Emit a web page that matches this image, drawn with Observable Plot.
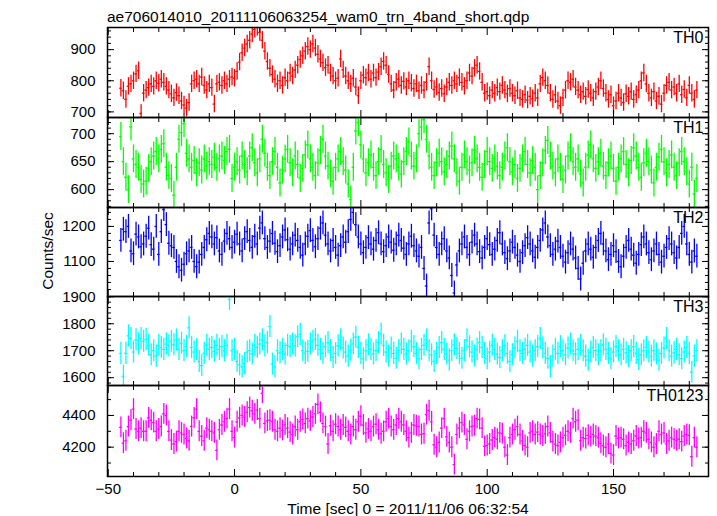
<!DOCTYPE html>
<html><head><meta charset="utf-8">
<script src="https://cdn.jsdelivr.net/npm/d3@7"></script>
<script src="https://cdn.jsdelivr.net/npm/@observablehq/plot@0.6"></script>
<style>
html,body{margin:0;padding:0;background:#fff;}
#chart{position:relative;width:717px;height:516px;overflow:hidden;background:#fff;}
#chart > svg{position:absolute;left:0;}
</style></head><body><div id="chart"></div>
<script>
const titleText = "ae706014010_20111106063254_wam0_trn_4band_short.qdp";
const xLabel = "Time [sec] 0 = 2011/11/06 06:32:54";
const yLabel = "Counts/sec";
const bandNames = ["TH0", "TH1", "TH2", "TH3", "TH0123"];
const bandColors = ["#ff0000", "#00ff00", "#0000ff", "#00ffff", "#ff00ff"];
const tStart = -45;   // centre of first 1-s bin
const binSec = 1;

const th0 = [
776,768,740,782,790,800,822,832,695,760,
770,778,790,782,800,792,805,795,782,770,
758,745,762,752,735,722,712,730,790,800,
805,790,812,785,770,790,778,725,790,795,
785,800,790,805,812,808,830,860,890,905,
918,930,950,965,972,955,930,895,862,840,
820,805,790,800,785,810,800,825,815,835,
850,868,880,895,910,900,918,905,885,870,
858,842,850,825,815,800,808,870,835,815,
800,790,808,780,752,800,818,810,825,805,
825,810,828,845,862,850,820,790,770,795,
805,785,798,780,800,792,775,790,768,785,
770,795,845,800,772,780,762,775,758,780,
795,785,800,790,810,795,782,800,825,815,
840,850,830,795,760,765,752,770,760,778,
765,785,770,758,775,760,752,768,745,740,
755,738,750,742,760,745,790,810,800,785,
760,740,755,735,720,745,770,800,795,805,
780,770,755,765,750,772,760,745,765,780,
800,775,760,740,755,720,735,760,745,730,
758,750,765,740,755,770,800,825,790,760,
745,765,735,750,725,760,785,795,770,780,
760,790,755,772,745,785,760,740,770];

const th1 = [
695,650,622,600,712,655,645,640,618,610,
615,638,650,660,668,655,672,682,640,625,
620,590,640,690,702,718,665,655,640,652,
630,648,635,655,642,650,645,658,640,655,
660,652,668,672,620,640,650,635,660,645,
632,660,675,648,630,655,690,665,640,625,
650,668,640,612,635,655,672,648,630,660,
645,620,638,662,680,655,640,625,648,670,
690,660,642,628,615,640,655,668,650,635,
610,582,640,705,720,680,655,630,648,662,
640,625,650,672,645,630,618,642,660,655,
640,628,650,668,685,660,642,655,700,712,
725,690,660,640,625,648,665,650,632,645,
660,678,655,630,615,640,662,650,635,648,
670,655,640,622,645,668,650,638,655,642,
625,640,660,675,650,632,645,620,638,655,
668,645,630,652,640,600,625,648,670,688,
660,642,630,655,640,618,635,660,675,650,
640,655,628,612,640,662,680,655,638,650,
665,642,625,648,660,638,615,640,655,668,
645,630,652,675,660,640,622,648,665,650,
635,612,640,658,672,650,630,645,662,640,
625,648,668,650,632,610,640,592,620];

const th2 = [
1160,1192,1185,1200,1130,1122,1178,1170,1142,1150,
1172,1195,1148,1135,1200,1120,1185,1248,1205,1152,
1145,1140,1100,1085,1075,1092,1122,1130,1140,1100,
1085,1098,1120,1140,1162,1180,1170,1150,1168,1130,
1120,1158,1180,1165,1140,1155,1178,1150,1130,1165,
1185,1160,1140,1172,1150,1195,1210,1165,1140,1158,
1180,1152,1128,1145,1170,1190,1162,1135,1150,1175,
1160,1140,1118,1150,1172,1188,1160,1142,1165,1195,
1210,1175,1150,1130,1160,1140,1118,1145,1170,1155,
1185,1220,1240,1205,1170,1150,1125,1140,1168,1150,
1135,1160,1182,1150,1128,1145,1170,1155,1132,1150,
1175,1160,1138,1120,1150,1172,1145,1130,1115,1140,
1080,1030,1210,1250,1175,1140,1120,1150,1165,1130,
1110,1060,1010,1090,1130,1150,1170,1140,1120,1155,
1175,1150,1128,1110,1140,1165,1148,1120,1135,1160,
1182,1150,1125,1108,1130,1155,1140,1118,1100,1125,
1145,1168,1150,1130,1112,1140,1160,1190,1210,1170,
1145,1120,1135,1158,1140,1115,1098,1125,1150,1135,
1110,1080,1050,1095,1130,1150,1135,1112,1140,1160,
1180,1150,1130,1105,1120,1145,1128,1100,1085,1115,
1140,1160,1135,1118,1095,1120,1148,1170,1150,1125,
1105,1130,1150,1120,1098,1115,1140,1165,1150,1125,
1110,1140,1180,1200,1150,1120,1098,1130,1115];

const th3 = [
1690,1605,1690,1755,1745,1695,1740,1725,1745,1735,
1742,1720,1685,1700,1680,1720,1712,1705,1725,1718,
1735,1722,1740,1705,1728,1700,1715,1785,1712,1695,
1705,1660,1645,1690,1720,1705,1712,1698,1720,1705,
1715,1700,1720,1890,1700,1705,1660,1648,1640,1652,
1695,1700,1688,1720,1712,1725,1740,1718,1730,1790,
1650,1640,1700,1692,1705,1688,1720,1715,1725,1718,
1752,1760,1700,1690,1698,1725,1735,1742,1720,1705,
1690,1715,1730,1700,1675,1690,1718,1740,1710,1695,
1680,1702,1725,1750,1712,1690,1670,1700,1722,1705,
1688,1700,1730,1762,1720,1695,1680,1710,1690,1672,
1700,1725,1705,1688,1700,1735,1715,1690,1670,1705,
1720,1740,1700,1685,1660,1690,1712,1730,1705,1688,
1665,1700,1722,1708,1690,1672,1700,1740,1715,1695,
1680,1705,1730,1712,1690,1670,1695,1720,1705,1688,
1675,1700,1718,1690,1660,1685,1710,1735,1700,1690,
1705,1720,1695,1680,1700,1715,1745,1710,1690,1672,
1640,1680,1705,1690,1715,1700,1685,1710,1725,1700,
1688,1705,1720,1700,1680,1665,1695,1712,1700,1685,
1700,1722,1705,1690,1670,1695,1715,1700,1685,1705,
1692,1678,1700,1715,1690,1668,1685,1700,1712,1695,
1680,1700,1688,1665,1690,1710,1745,1700,1680,1692,
1705,1685,1670,1695,1712,1690,1620,1680,1700];

const th0123 = [
4325,4225,4240,4330,4370,4440,4315,4300,4320,4300,
4300,4385,4370,4355,4300,4315,4330,4410,4400,4300,
4245,4220,4235,4300,4290,4280,4255,4240,4330,4385,
4440,4300,4270,4240,4320,4310,4300,4290,4180,4310,
4340,4360,4380,4440,4300,4260,4360,4385,4400,4390,
4420,4450,4430,4410,4435,4380,4540,4350,4365,4370,
4360,4310,4300,4320,4305,4340,4320,4295,4280,4330,
4310,4360,4375,4350,4380,4365,4390,4410,4470,4420,
4350,4330,4220,4335,4300,4345,4330,4310,4340,4325,
4300,4280,4330,4310,4360,4395,4340,4290,4315,4300,
4330,4345,4310,4285,4300,4360,4380,4330,4310,4340,
4380,4360,4340,4300,4260,4290,4340,4335,4330,4280,
4285,4405,4430,4360,4215,4200,4230,4320,4380,4265,
4230,4200,4090,4280,4320,4355,4340,4250,4300,4330,
4335,4380,4375,4320,4205,4210,4220,4245,4260,4250,
4290,4285,4200,4150,4260,4280,4310,4330,4280,4240,
4210,4200,4290,4300,4280,4295,4280,4270,4285,4330,
4290,4235,4220,4210,4230,4260,4275,4300,4290,4380,
4360,4370,4240,4260,4255,4275,4265,4280,4270,4260,
4225,4210,4200,4220,4160,4150,4270,4255,4260,4250,
4210,4230,4220,4240,4270,4255,4260,4300,4290,4250,
4230,4200,4220,4300,4280,4290,4220,4240,4260,4250,
4240,4250,4235,4270,4280,4275,4140,4260,4200];

const errHalf = [28, 25, 34, 41, 66];
const yDomains = [[682, 971], [568, 729], [1000, 1254], [1571, 1901], [4015, 4589]];
const yMajor = [[700, 800, 900], [600, 650, 700], [1100, 1200], [1600, 1700, 1800, 1900], [4200, 4400]];
const yMinorStep = [20, 10, 20, 20, 100];
const xDomain = [-50.3, 187.6];
const xMajor = [-50, 0, 50, 100, 150];
const xMinor = [-40, -30, -20, -10, 10, 20, 30, 40, 60, 70, 80, 90, 110, 120, 130, 140, 160, 170, 180];

const panelTop = [27, 117, 207, 296, 385];
const panelH = [90, 90, 89, 89, 91];
const series = [th0, th1, th2, th3, th0123];
const times = th0.map((_, j) => tStart + j * binSec);
const font = "'Liberation Sans', Arial, Helvetica, sans-serif";
const intFmt = d3.format("d");

const chart = document.getElementById("chart");
const mt = 12, mb = 12, mbLast = 40;

series.forEach((vals, i) => {
  const last = i === series.length - 1;
  const data = vals.map((v, j) => ({t: times[j], v, e: errHalf[i]}));
  const step = yMinorStep[i];
  const minor = d3.range(Math.ceil(yDomains[i][0] / step) * step, yDomains[i][1], step);
  const marks = [
    Plot.ruleX(data, {x: "t", y1: d => d.v - d.e, y2: d => d.v + d.e, stroke: bandColors[i], strokeWidth: 1.3, clip: true}),
    Plot.ruleY(data, {y: "v", x1: d => d.t - binSec / 2, x2: d => d.t + binSec / 2, stroke: bandColors[i], strokeWidth: 1.3, clip: true}),
    Plot.frame({stroke: "#000", strokeWidth: 1.5}),
    ...["bottom", "top"].flatMap(a => [
      Plot.axisX(xMajor, {anchor: a, tickSize: -7, fill: "none", label: null, stroke: "#000"}),
      Plot.axisX(xMinor, {anchor: a, tickSize: -4, fill: "none", label: null, stroke: "#000"})
    ]),
    ...["left", "right"].flatMap(a => [
      Plot.axisY(yMajor[i], {anchor: a, tickSize: -7, fill: "none", label: null, stroke: "#000"}),
      Plot.axisY(minor, {anchor: a, tickSize: -4, fill: "none", label: null, stroke: "#000"})
    ]),
    Plot.axisY(yMajor[i], {anchor: "left", tickSize: 0, tickPadding: 12, label: null, fill: "#000", tickFormat: intFmt}),
    Plot.text([bandNames[i]], {frameAnchor: "top-right", dx: -5, dy: 4, lineAnchor: "top", fontSize: 16, fill: "#000"})
  ];
  if (last) marks.push(Plot.axisX(xMajor, {anchor: "bottom", tickSize: 0, tickPadding: 7, label: null, fill: "#000", tickFormat: intFmt}));
  const svg = Plot.plot({
    width: 717,
    height: mt + panelH[i] + (last ? mbLast : mb),
    marginLeft: 107, marginRight: 9, marginTop: mt, marginBottom: last ? mbLast : mb,
    x: {domain: xDomain, label: null},
    y: {domain: yDomains[i], label: null},
    style: {fontFamily: font, fontSize: "15px", background: "transparent", overflow: "visible", color: "#000"},
    marks
  });
  svg.style.top = (panelTop[i] - mt) + "px";
  chart.appendChild(svg);
});

// title and axis labels
const ov = d3.select(chart).append("svg")
  .attr("width", 717).attr("height", 516)
  .style("top", "0px").style("pointer-events", "none")
  .style("font-family", font);
ov.append("text").attr("x", 107).attr("y", 21.5).attr("font-size", 15.5).text(titleText);
ov.append("text").attr("x", 408).attr("y", 514).attr("text-anchor", "middle").attr("font-size", 15.5).text(xLabel);
ov.append("text").attr("transform", "translate(52.5,251) rotate(-90)").attr("text-anchor", "middle").attr("font-size", 15.5).text(yLabel);
</script></body></html>
